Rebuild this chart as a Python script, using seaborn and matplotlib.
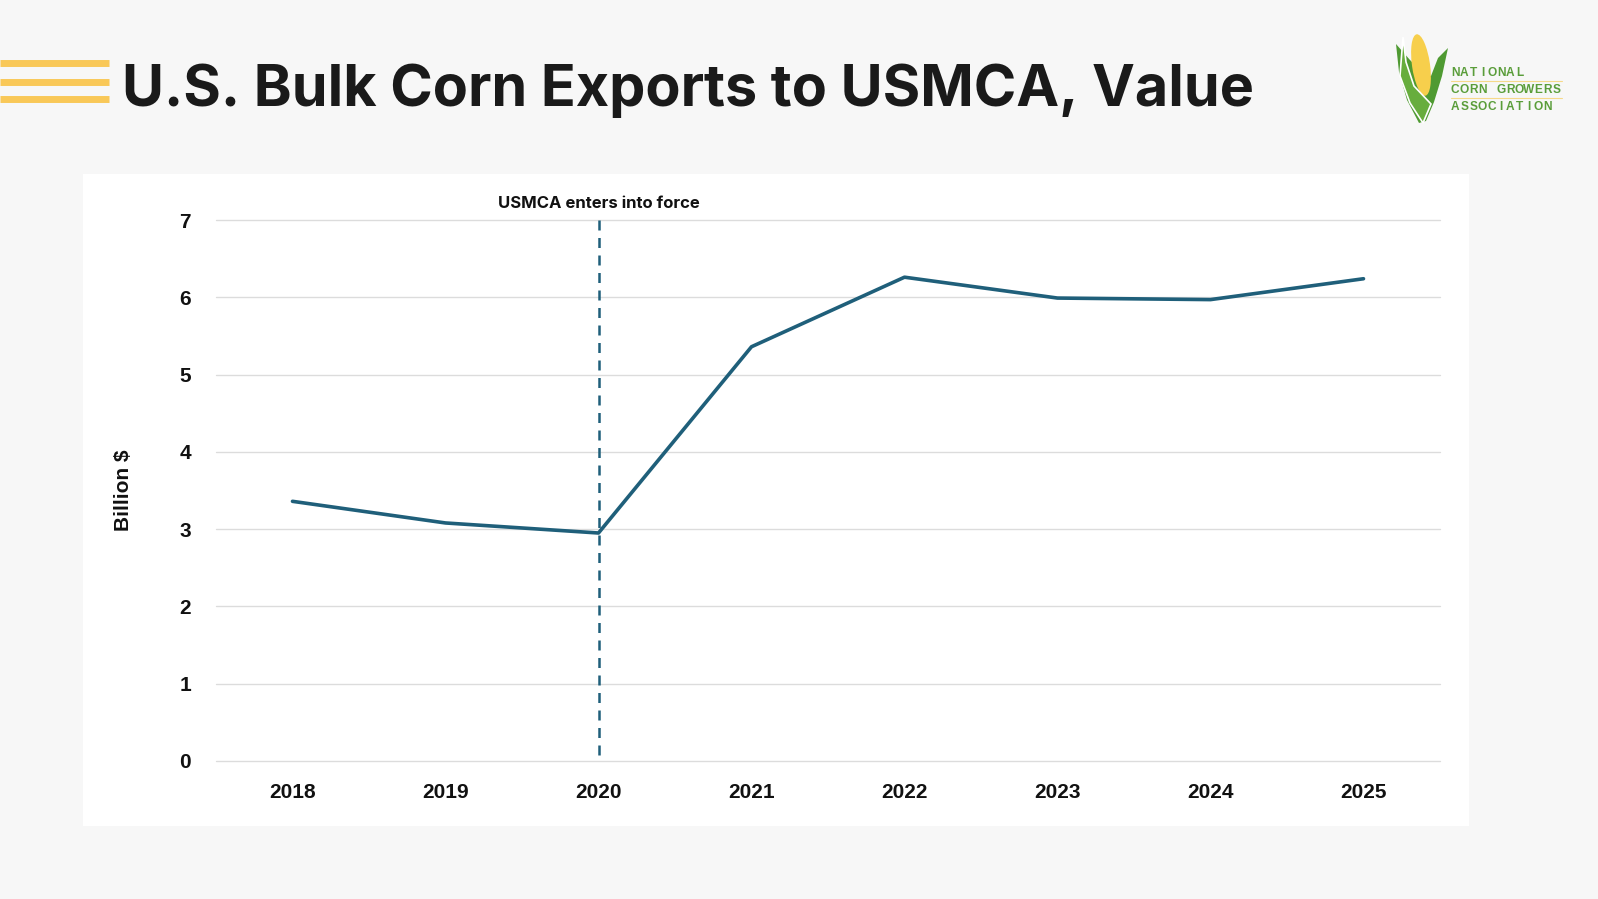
import numpy as np
import pandas as pd
import matplotlib.pyplot as plt
import matplotlib.patches as mpatches
import seaborn as sns

# data
years = [2018, 2019, 2020, 2021, 2022, 2023, 2024, 2025]
value_bn = [3.36, 3.08, 2.95, 5.36, 6.26, 5.99, 5.97, 6.24]
event_year = 2020
event_label = 'USMCA enters into force'
title = 'U.S. Bulk Corn Exports to USMCA, Value'
ylabel = 'Billion $'
logo_lines = ['NATIONAL', 'CORN GROWERS', 'ASSOCIATION']

df = pd.DataFrame({'year': years, 'value': value_bn})

sns.set_theme(style='white')
plt.rcParams['font.family'] = ['Liberation Sans', 'DejaVu Sans']

W, H = 1598, 899
fig = plt.figure(figsize=(W / 100, H / 100), dpi=100)
fig.patch.set_facecolor('#f7f7f7')

# white card behind chart
fig.patches.append(mpatches.Rectangle((82.5 / W, 1 - 825.5 / H), (1468.5 - 82.5) / W, (825.5 - 174) / H,
                                      transform=fig.transFigure, facecolor='white', edgecolor='none', zorder=-5))

ax = fig.add_axes([216 / W, 1 - 761 / H, (1440 - 216) / W, (761 - 220) / H], zorder=2)
ax.set_facecolor('white')
line_col = '#1f5f7a'

sns.lineplot(data=df, x='year', y='value', ax=ax, color=line_col, linewidth=2.6, zorder=3)
ax.vlines(event_year, 0.08, 7, colors=line_col, linestyles=(0, (4, 3)), linewidth=1.8, zorder=2)
ax.text(event_year, 7.16, event_label, ha='center', va='baseline', fontsize=12,
        fontweight='bold', family=['Inter', 'DejaVu Sans'], color='#111111', clip_on=False)

ax.set_xlim(years[0] - 0.5, years[-1] + 0.5)
ax.set_ylim(0, 7)
ax.set_xticks(years)
ax.set_xticklabels([str(y) for y in years])
ax.set_yticks(range(0, 8))
ax.yaxis.grid(True, color='#dcdcdc', linewidth=1)
ax.xaxis.grid(False)
for gl in ax.get_ygridlines():
    gl.set_clip_on(False)
for s in ax.spines.values():
    s.set_visible(False)
ax.tick_params(axis='both', length=0, labelsize=15, colors='#111111')
ax.tick_params(axis='y', pad=18)
ax.tick_params(axis='x', pad=16)
for lab in ax.get_xticklabels() + ax.get_yticklabels():
    lab.set_fontweight('bold')
ax.set_xlabel('')
ax.set_ylabel(ylabel, fontsize=15, fontweight='bold', color='#111111', labelpad=33)

# header decorations in pixel coords
deco = fig.add_axes([0, 0, 1, 1], zorder=5)
deco.set_xlim(0, W)
deco.set_ylim(H, 0)
deco.axis('off')
deco.patch.set_alpha(0)

for yy in [63, 81.5, 99]:
    deco.plot([0, 109], [yy, yy], color='#f9c858', linewidth=5, solid_capstyle='butt')

deco.text(122, 106, title, ha='left', va='baseline', fontsize=41.4, fontweight='bold',
          family=['Inter', 'DejaVu Sans'], color='#1a1a1a')

# rough NCGA logo
green = '#4f9a32'
deco.add_patch(mpatches.Polygon([(1396, 44), (1399, 72), (1407, 100), (1419, 123), (1426, 121), (1434, 102),
                                 (1442, 76), (1448, 48), (1438, 58), (1431, 76), (1422, 72), (1410, 60)],
                                closed=True, facecolor=green, edgecolor='none'))
deco.add_patch(mpatches.Ellipse((1421, 65), 18, 62, angle=-8, facecolor='#f7cf4c', edgecolor='none'))
deco.add_patch(mpatches.Polygon([(1403, 37), (1406, 62), (1414, 86), (1431, 104), (1423, 123),
                                 (1410, 103), (1400, 76)],
                                closed=True, facecolor='#67ad3d', edgecolor='white', linewidth=1.2))

for i, word in enumerate(logo_lines):
    y0 = 75.5 + i * 17.5
    for j, ch in enumerate(word):
        deco.text(1455 + j * 9.2, y0, ch, ha='center', va='baseline', fontsize=8.6, fontweight='bold',
                  color='#5a9d3a', family=['Liberation Sans', 'DejaVu Sans'])
for yy in [80.5, 98]:
    deco.plot([1451, 1562], [yy, yy], color='#f6d98a', linewidth=0.8)

fig.savefig('out.png', dpi=100, facecolor=fig.get_facecolor())
